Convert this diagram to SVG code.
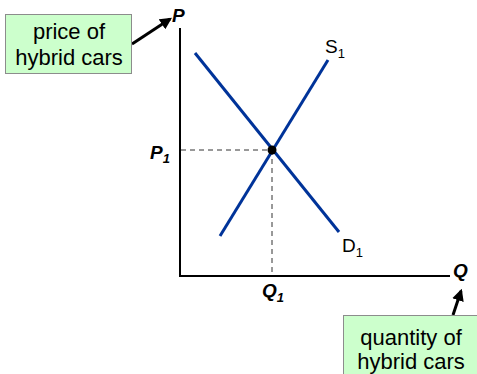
<svg xmlns="http://www.w3.org/2000/svg" width="477" height="374" viewBox="0 0 477 374">
<style>
.box{fill:#ccffcc;stroke:#8c8c8c;stroke-width:1}
.bt{font-family:"Liberation Sans",Arial,sans-serif;font-size:22px;fill:#000;text-anchor:middle}
.ax{stroke:#000;stroke-width:2;fill:none}
.curve{stroke:#003399;stroke-width:3;fill:none}
.dash{stroke:#333;stroke-width:1;stroke-dasharray:5,4;fill:none}
.lbl{font-family:"Liberation Sans",Arial,sans-serif;font-size:19px;fill:#000}
.albl{font-family:"Liberation Sans",Arial,sans-serif;font-size:19px;font-weight:bold;font-style:italic;fill:#000}
.arr{stroke:#000;stroke-width:3;fill:none}
</style>
<defs>
<marker id="ah" viewBox="0 0 10 10" refX="8" refY="5" markerWidth="4" markerHeight="4" orient="auto" markerUnits="strokeWidth">
<path d="M0,0 L10,5 L0,10 Z" fill="#000"/>
</marker>
</defs>
<rect width="477" height="374" fill="#fff"/>
<g id="axes">
<line class="ax" x1="180" y1="28" x2="180" y2="276"/>
<line class="ax" x1="179" y1="276" x2="450" y2="276"/>
</g>
<g id="connectors">
<line class="dash" x1="181" y1="150" x2="272" y2="150"/>
<line class="dash" x1="272" y1="150" x2="272" y2="275"/>
<line class="arr" x1="132" y1="44" x2="170" y2="19" marker-end="url(#ah)"/>
<line class="arr" x1="453" y1="315" x2="461" y2="291" marker-end="url(#ah)"/>
</g>
<g id="supply">
<line class="curve" x1="220" y1="236" x2="328" y2="60"/>
<text class="lbl" x="325" y="53">S<tspan font-size="13" dy="5">1</tspan></text>
</g>
<g id="demand">
<line class="curve" x1="195" y1="53" x2="339" y2="232"/>
<text class="lbl" x="342" y="252">D<tspan font-size="13" dy="5">1</tspan></text>
</g>
<g id="equilibrium">
<circle cx="272" cy="150" r="4.5" fill="#000"/>
</g>
<g id="axis-labels">
<text class="albl" x="172" y="22">P</text>
<text class="albl" x="453" y="277">Q</text>
<text class="albl" x="150" y="159">P<tspan font-size="13" dy="4">1</tspan></text>
<text class="albl" x="262" y="297">Q<tspan font-size="13" dy="5">1</tspan></text>
</g>
<g id="price-box">
<rect class="box" x="5.5" y="14.5" width="126" height="59"/>
<text class="bt" x="69" y="39">price of</text>
<text class="bt" x="69" y="65">hybrid cars</text>
</g>
<g id="quantity-box">
<rect class="box" x="343.5" y="315.5" width="140" height="70"/>
<text class="bt" x="411" y="345" font-size="21">quantity of</text>
<text class="bt" x="411" y="369" font-size="21">hybrid cars</text>
</g>
</svg>
